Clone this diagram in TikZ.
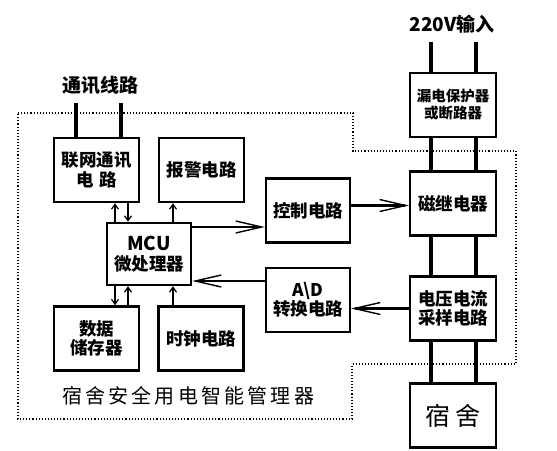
\documentclass[tikz,border=0pt]{standalone}
\usepackage{fontspec}
\setmainfont{Noto Sans CJK SC}
\usetikzlibrary{arrows.meta,calc}

\begin{document}
\begin{tikzpicture}[x=1pt,y=-1pt,
    box/.style={draw,line width=2.4pt,minimum width=85pt,minimum height=64pt,
        align=center,inner sep=1pt,font=\fontsize{17.5}{19.5}\selectfont\bfseries},
    wire/.style={line width=3.2pt},
    bigarrow/.style={line width=2.4pt,-{Straight Barb[length=26pt,width=12pt,line width=1.4pt]}},
    smallarrow/.style={line width=1.6pt,-{Straight Barb[length=5pt,width=7pt,line width=1.2pt]}}
]
\useasboundingbox (0,0) rectangle (557,450);

% Manager outline
\draw[dotted,line width=1.1pt] (18,113) -- (353,113) -- (353,151) -- (516,151)
    -- (516,364) -- (352,364) -- (352,419) -- (18,419) -- cycle;
\node[font=\fontsize{20}{22}\selectfont\addfontfeature{LetterSpace=16}] (title) at (188,396) {宿舍安全用电智能管理器};

% Boxes inside
\node[box] (lw) at (96.5,170) {联网通讯\\电\,\,路};
\node[box] (bj) at (201.5,170) {报警电路};
\node[box,minimum width=84pt,minimum height=62pt] (mcu) at (149,254) {\fontsize{19}{21}\selectfont MCU\\微处理器};
\node[box] (sj) at (96.5,338.5) {数据\\储存器};
\node[box] (sz) at (201,338.5) {时钟电路};
\node[box,minimum width=84pt] (kz) at (308,210.5) {控制电路};
\node[box,minimum width=84pt] (ad) at (308,300) {A\textbackslash D\\转换电路};

% Power chain
\node[box,minimum width=86pt,font=\fontsize{14.5}{17}\selectfont\bfseries] (ld) at (453,105) {漏电保护器\\或断路器};
\node[box,minimum width=86pt] (cj) at (453,203.5) {磁继电器};
\node[box,minimum width=86pt] (cy) at (453,308.5) {电压电流\\采样电路};
\node[box,minimum width=86pt,font=\fontsize{25}{28}\selectfont] (ss) at (453,415.5) {宿\,舍};

% Inputs
\coordinate (in) at (453,42);
\node[font=\fontsize{19}{21}\selectfont\bfseries] (inlabel) at (452,24) {220V输入};
\coordinate (tx) at (98,103);
\node[font=\fontsize{19}{21}\selectfont\bfseries] (txlabel) at (100,85) {通讯线路};

% Thick wires
\foreach \dx in {-22,23} {
    \draw[wire] ([xshift=\dx pt]in) -- ([xshift=\dx pt]in |- ld.north);
    \draw[wire] ([xshift=\dx pt]ld.south) -- ([xshift=\dx pt]cj.north);
    \draw[wire] ([xshift=\dx pt]cj.south) -- ([xshift=\dx pt]cy.north);
    \draw[wire] ([xshift=\dx pt]cy.south) -- ([xshift=\dx pt]ss.north);
}
\foreach \dx in {-22,23} {
    \draw[wire] ([xshift=\dx pt]tx) -- ([xshift=\dx pt]tx |- lw.north);
}

% Small arrows round the MCU
\draw[smallarrow] ([xshift=-34pt]mcu.north) -- ([xshift=-34pt]mcu.north |- lw.south);
\draw[smallarrow] ([xshift=-21pt]mcu.north |- lw.south) -- ([xshift=-21pt]mcu.north);
\draw[smallarrow] ([xshift=24pt]mcu.north) -- ([xshift=24pt]mcu.north |- bj.south);
\draw[smallarrow] ([xshift=-34pt]mcu.south) -- ([xshift=-34pt]mcu.south |- sj.north);
\draw[smallarrow] ([xshift=-21pt]mcu.south |- sj.north) -- ([xshift=-21pt]mcu.south);
\draw[smallarrow] ([xshift=24pt]mcu.south |- sz.north) -- ([xshift=24pt]mcu.south);

% Big arrows
\draw[bigarrow] ([yshift=27pt]mcu.east) -- ([yshift=27pt]mcu.east -| kz.west);
\draw[bigarrow] ([yshift=5pt]kz.east) -- ([yshift=5pt]kz.east -| cj.west);
\draw[bigarrow] (cy.west) -- (cy.west -| ad.east);
\draw[bigarrow] ([yshift=19pt]ad.west) -- ([yshift=19pt]ad.west -| mcu.east);

\end{tikzpicture}
\end{document}
